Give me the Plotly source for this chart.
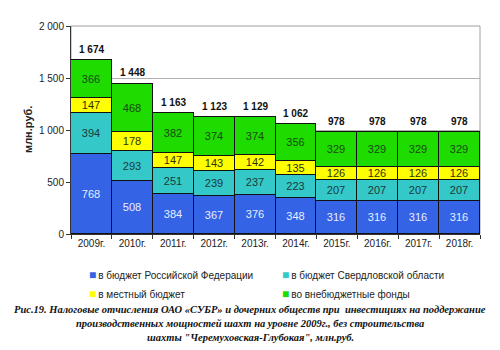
import plotly.graph_objects as go

years = ["2009г.", "2010г.", "2011г.", "2012г.", "2013г.", "2014г.", "2015г.", "2016г.", "2017г.", "2018г."]
federal = [768, 508, 384, 367, 376, 348, 316, 316, 316, 316]
regional = [394, 293, 251, 239, 237, 223, 207, 207, 207, 207]
local = [147, 178, 147, 143, 142, 135, 126, 126, 126, 126]
offbudget = [366, 468, 382, 374, 374, 356, 329, 329, 329, 329]
totals = [1674, 1448, 1163, 1123, 1129, 1062, 978, 978, 978, 978]

series = [
    ("в бюджет Российской Федерации", federal, "#3463E6", "#E8EEFF", "legend"),
    ("в бюджет Свердловской области", regional, "#35C8C8", "#1A3A3A", "legend2"),
    ("в местный бюджет", local, "#FFFF00", "#333300", "legend"),
    ("во внебюджетные фонды", offbudget, "#1EDC00", "#1A4A10", "legend2"),
]

fig = go.Figure()
for name, vals, color, tcolor, lg in series:
    fig.add_trace(go.Bar(
        x=years, y=vals, name=name, showlegend=False,
        marker=dict(color=color, line=dict(color="#111111", width=1)),
        text=[str(v) for v in vals], textposition="inside", insidetextanchor="middle",
        textfont=dict(color=tcolor, size=11, family="Liberation Sans"),
        textangle=0, constraintext="none",
    ))

# legend entries: coloured square glyph inside the entry text (two columns = two legends)
for name, vals, color, tcolor, lg in series:
    fig.add_trace(go.Scatter(
        x=[None], y=[None], mode="none", showlegend=True, legend=lg,
        name=f'<span style="color:{color};font-size:12px">■</span>\u2009{name}',
    ))

for yr, t in zip(years, totals):
    fig.add_annotation(x=yr, y=t, text="<b>" + f"{t:,}".replace(",", " ") + "</b>",
                       showarrow=False, yanchor="bottom", yshift=3,
                       font=dict(size=10, color="#111111", family="Liberation Sans"))

# y-axis title
fig.add_annotation(xref="paper", yref="paper", x=(28 - 71) / 409, y=0.5, textangle=-90,
                   text="<b>млн.руб.</b>", showarrow=False, xanchor="center", yanchor="middle",
                   font=dict(size=11, family="Liberation Sans", color="#222222"))

caption_lines = [
    "Рис.19. Налоговые отчисления ОАО «СУБР» и дочерних обществ при  инвестициях на поддержание",
    "производственных мощностей шахт на уровне 2009г., без строительства",
    "шахты \"Черемуховская-Глубокая\", млн.руб.",
]
for line, py in zip(caption_lines, [309, 323, 337]):
    fig.add_annotation(xref="paper", yref="paper", x=(250 - 71) / 409, y=(234 - py) / 208,
                       yanchor="middle", text=f"<b><i>{line}</i></b>", showarrow=False,
                       font=dict(size=10.5, family="Liberation Serif", color="#111111"))

fig.add_shape(type="rect", xref="paper", yref="paper", x0=0, x1=1, y0=0, y1=1,
              line=dict(color="#A0A0A0", width=1), layer="below")

legend_common = dict(orientation="v", xref="container", yref="container", y=1 - 261 / 350,
                     xanchor="left", yanchor="top", traceorder="normal",
                     font=dict(size=10), itemwidth=30, tracegroupgap=0, bgcolor="rgba(0,0,0,0)")

fig.update_layout(
    width=500, height=350,
    margin=dict(l=71, r=20, t=26, b=116, autoexpand=False),
    paper_bgcolor="white", plot_bgcolor="white",
    barmode="stack", bargap=0,
    separators=". ",
    font=dict(family="Liberation Sans", size=10, color="#222222"),
    showlegend=True,
    legend=dict(x=49 / 500, **legend_common),
    legend2=dict(x=242 / 500, **legend_common),
)
fig.update_yaxes(range=[0, 2000], dtick=500, tickformat=",d", showgrid=True, gridcolor="#B0B0B0",
                 showline=True, linecolor="#333333", ticks="outside", ticklen=4, tickcolor="#333333",
                 tickfont=dict(size=10))
fig.update_xaxes(showline=True, linecolor="#333333", ticks="outside", ticklen=4, tickcolor="#333333",
                 tickson="boundaries", tickfont=dict(size=10))

fig.write_html("out.html")
